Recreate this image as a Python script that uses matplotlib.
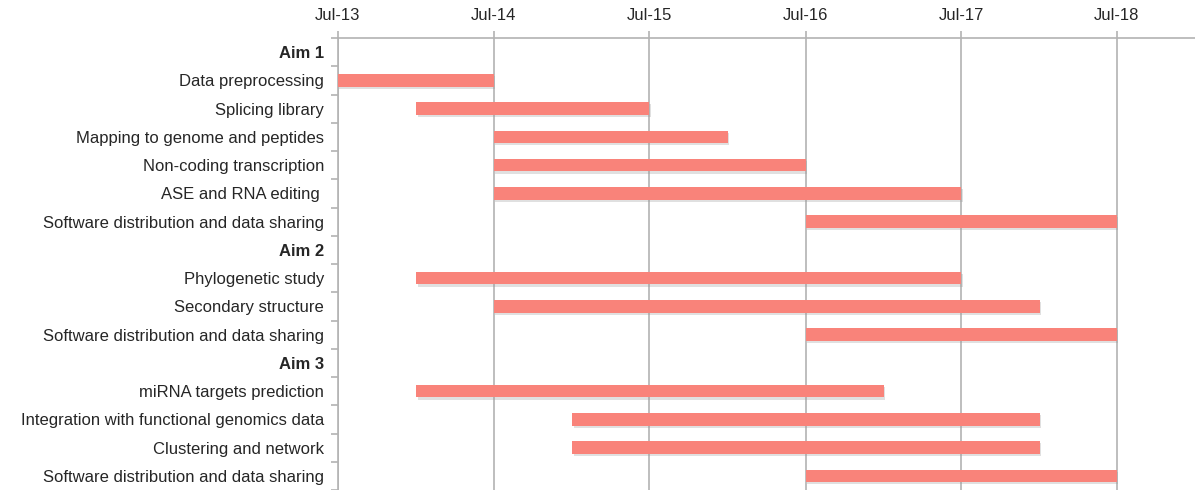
import matplotlib.pyplot as plt
import matplotlib.dates as mdates
import matplotlib.patheffects as pe
import numpy as np
from datetime import datetime

plt.rcParams['font.family'] = ['Liberation Sans', 'DejaVu Sans']

# rows, top to bottom (None = section heading)
tasks = ['Aim 1', 'Data preprocessing', 'Splicing library', 'Mapping to genome and peptides',
         'Non-coding transcription', 'ASE and RNA editing ', 'Software distribution and data sharing',
         'Aim 2', 'Phylogenetic study', 'Secondary structure', 'Software distribution and data sharing',
         'Aim 3', 'miRNA targets prediction', 'Integration with functional genomics data',
         'Clustering and network', 'Software distribution and data sharing']
starts = [None, '2013-07-01', '2014-01-01', '2014-07-01', '2014-07-01', '2014-07-01', '2016-07-01',
          None, '2014-01-01', '2014-07-01', '2016-07-01',
          None, '2014-01-01', '2015-01-01', '2015-01-01', '2016-07-01']
ends = [None, '2014-07-01', '2015-07-01', '2016-01-01', '2016-07-01', '2017-07-01', '2018-07-01',
        None, '2017-07-01', '2018-01-01', '2018-07-01',
        None, '2017-01-01', '2018-01-01', '2018-01-01', '2018-07-01']
headings = ['Aim 1', 'Aim 2', 'Aim 3']

fig = plt.figure(figsize=(11.95, 4.9), dpi=100)
ax = fig.add_axes([0.2828, 0.0, 0.7172, 0.9224])

bar_color = '#F9837A'
grid_color = '#B3B3B3'
text_color = '#262626'

y = np.arange(len(tasks))
for i, (s, e) in enumerate(zip(starts, ends)):
    if s is None:
        continue
    d0 = mdates.date2num(datetime.fromisoformat(s))
    d1 = mdates.date2num(datetime.fromisoformat(e))
    bars = ax.barh(i, d1 - d0, left=d0, height=0.45, color=bar_color, zorder=3)
    for b in bars:
        b.set_path_effects([pe.SimplePatchShadow(offset=(1, -1.5), shadow_rgbFace='#999999', alpha=0.3),
                            pe.Normal()])

ax.set_ylim(len(tasks) - 0.5, -0.5)
ax.set_yticks(y)
ax.set_yticklabels(tasks, fontsize=12, color=text_color)
for lab in ax.get_yticklabels():
    if lab.get_text() in headings:
        lab.set_fontweight('bold')
ax.set_yticks(np.arange(-0.5, len(tasks), 1.0), minor=True)
ax.tick_params(axis='y', which='major', length=0, pad=10)
ax.tick_params(axis='y', which='minor', length=5, width=1.2, color=grid_color, direction='out')

ax.set_xlim(mdates.date2num(datetime(2013, 7, 1)), mdates.date2num(datetime(2018, 12, 31)))
ax.xaxis.set_major_locator(mdates.MonthLocator(bymonth=7))
ax.xaxis.set_major_formatter(mdates.DateFormatter('%b-%y'))
ax.xaxis.tick_top()
ax.tick_params(axis='x', which='major', length=5, width=1.2, color=grid_color,
               labelsize=12, labelcolor=text_color, pad=6, direction='out')
ax.xaxis.grid(True, color=grid_color, linewidth=1.2, zorder=0)
ax.set_axisbelow(True)

for side in ['bottom', 'right']:
    ax.spines[side].set_visible(False)
for side in ['top', 'left']:
    ax.spines[side].set_color(grid_color)
    ax.spines[side].set_linewidth(1.2)

fig.savefig('out.png', dpi=100)
